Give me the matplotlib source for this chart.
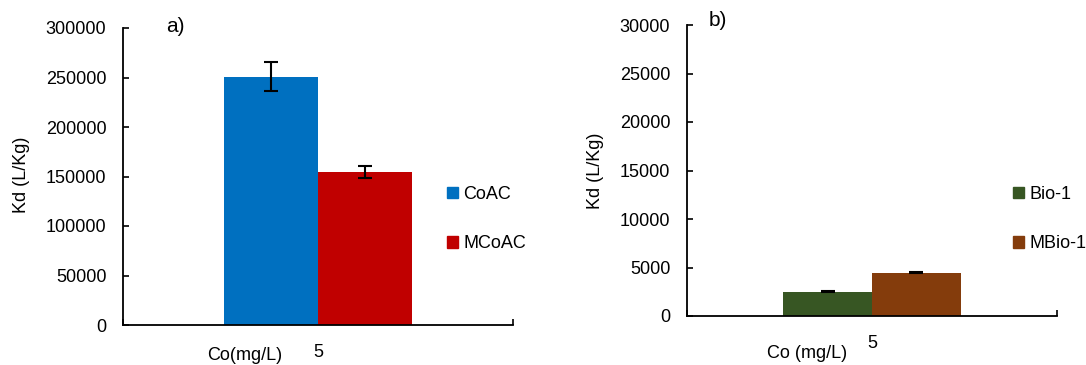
import matplotlib
matplotlib.use("Agg")
import matplotlib.pyplot as plt
from matplotlib.patches import Patch
import numpy as np

plt.rcParams["font.family"] = ["Liberation Sans", "DejaVu Sans"]
plt.rcParams["font.size"] = 13

# data
conc_labels = ["5"]
coac = [251000]
coac_err = [15000]
mcoac = [154500]
mcoac_err = [6000]
bio1 = [2500]
bio1_err = [40]
mbio1 = [4450]
mbio1_err = [40]

W, H = 1086, 365
fig = plt.figure(figsize=(W / 100, H / 100), dpi=100)


def px_axes(x0, x1, ytop, ybot):
    return fig.add_axes([x0 / W, (H - ybot) / H, (x1 - x0) / W, (ybot - ytop) / H])


def style(ax, ymax, step):
    for s in ["top", "right"]:
        ax.spines[s].set_visible(False)
    for s in ["left", "bottom"]:
        ax.spines[s].set_linewidth(1.3)
    ax.set_xlim(-0.5, 0.5)
    ax.set_ylim(0, ymax)
    ax.set_yticks(np.arange(0, ymax + 1, step))
    ax.tick_params(axis="y", direction="in", length=4, width=1.2, pad=12)
    ax.set_xticks([0])
    ax.set_xticklabels(conc_labels)
    ax.tick_params(axis="x", length=0, pad=14)
    ax.set_xticks([-0.5, 0.5], minor=True)
    ax.tick_params(axis="x", which="minor", direction="in", length=4, width=1.2)


x = np.arange(len(conc_labels))
bw = 0.24
ekw = dict(ecolor="black", elinewidth=1.5, capsize=5, capthick=1.5)

# panel a
ax1 = px_axes(123, 513, 28, 325)
ax1.bar(x - bw / 2, coac, bw, yerr=coac_err, color="#0070C0", error_kw=ekw)
ax1.bar(x + bw / 2, mcoac, bw, yerr=mcoac_err, color="#C00000", error_kw=ekw)
style(ax1, 300000, 50000)
ax1.set_ylabel("Kd (L/Kg)")
ax1.yaxis.set_label_coords(-0.238, 0.505)
ax1.set_xlabel("Co(mg/L)")
ax1.xaxis.set_label_coords(0.313, -0.074)
fig.text(175 / W, (H - 27) / H, "a)", ha="center", va="center", fontsize=15)
fig.legend(handles=[Patch(color="#0070C0", label="CoAC"), Patch(color="#C00000", label="MCoAC")],
           loc="upper left", bbox_to_anchor=(447 / W, (H - 186) / H), frameon=False,
           borderpad=0, borderaxespad=0, handlelength=0.6, handleheight=0.6,
           handletextpad=0.3, labelspacing=1.8)

# panel b
ax2 = px_axes(687, 1057, 25, 316)
ax2.bar(x - bw / 2, bio1, bw, yerr=bio1_err, color="#375623", error_kw=ekw)
ax2.bar(x + bw / 2, mbio1, bw, yerr=mbio1_err, color="#843C0C", error_kw=ekw)
style(ax2, 30000, 5000)
ax2.set_ylabel("Kd (L/Kg)")
ax2.yaxis.set_label_coords(-0.224, 0.50)
ax2.set_xlabel("Co (mg/L)")
ax2.xaxis.set_label_coords(0.324, -0.10)
fig.text(718 / W, (H - 21) / H, "b)", ha="center", va="center", fontsize=15)
fig.legend(handles=[Patch(color="#375623", label="Bio-1"), Patch(color="#843C0C", label="MBio-1")],
           loc="upper left", bbox_to_anchor=(1013 / W, (H - 186) / H), frameon=False,
           borderpad=0, borderaxespad=0, handlelength=0.6, handleheight=0.6,
           handletextpad=0.3, labelspacing=1.8)

fig.savefig("out.png", dpi=100)
